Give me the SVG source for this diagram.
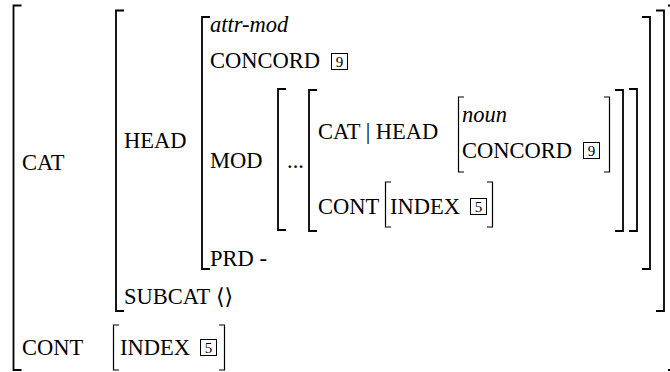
<svg xmlns="http://www.w3.org/2000/svg" width="670" height="372" viewBox="0 0 670 372">
<style>
text{font-family:'Liberation Serif','Times New Roman',serif;font-size:22.5px;fill:#000}
.it{font-style:italic}
.br{fill:none;stroke:#000;stroke-width:1.8}
.sb{fill:none;stroke:#000;stroke-width:1.2}
.bx{fill:none;stroke:#000;stroke-width:1}
.num{font-size:15px;text-anchor:middle}
.ang{font-family:'DejaVu Serif',serif;font-size:22px}
</style>
<rect width="670" height="372" fill="#fff"/>
<g id="brackets">
<path class="br" d="M21.5,5.5H13.5V370H21.5"/>
<path class="br" d="M668,5.5H677V370H668"/>
<path class="br" d="M124,10.5H116V311H124"/>
<path class="br" d="M656,10.5H664V311H656"/>
<path class="br" d="M210,17H202V269H210"/>
<path class="br" d="M642,17H650V269H642"/>
<path class="br" d="M286,89H278V230H286"/>
<path class="br" d="M629,89H637V231H629"/>
<path class="br" d="M317,90H309V231H317"/>
<path class="br" d="M615,90H623V231H615"/>
<path class="sb" d="M464,97H458.5V172H464"/>
<path class="sb" d="M604,97H609.5V172H604"/>
<path class="sb" d="M391,182H385.5V227H391"/>
<path class="sb" d="M487,182H492.5V227H487"/>
<path class="sb" d="M119,325H113.5V370H119"/>
<path class="sb" d="M219,325H224.5V370H219"/>
</g>
<g id="n-cat"><text x="22" y="170">CAT</text></g>
<g id="n-head"><text x="124" y="148">HEAD</text></g>
<g id="n-attrmod"><text class="it" x="210" y="32">attr-mod</text></g>
<g id="n-concord1"><text x="210" y="68">CONCORD</text><rect class="bx" x="331.5" y="53.5" width="16" height="16"/><text class="num" x="339.5" y="66.5">9</text></g>
<g id="n-mod"><text x="210" y="168">MOD</text></g>
<g id="n-dots"><text x="287" y="168">...</text></g>
<g id="n-cathead"><text x="318" y="139">CAT | HEAD</text></g>
<g id="n-noun"><text class="it" x="462" y="122">noun</text></g>
<g id="n-concord2"><text x="462" y="158">CONCORD</text><rect class="bx" x="583.5" y="142.5" width="16" height="16"/><text class="num" x="591.5" y="155.5">9</text></g>
<g id="n-cont1"><text x="318" y="214">CONT</text></g>
<g id="n-index1"><text x="390" y="214">INDEX</text><rect class="bx" x="470.5" y="198.5" width="16" height="16"/><text class="num" x="478.5" y="211.5">5</text></g>
<g id="n-prd"><text x="210" y="266">PRD -</text></g>
<g id="n-subcat"><text x="124" y="304">SUBCAT</text><text class="ang" x="216" y="304">⟨⟩</text></g>
<g id="n-cont2"><text x="22" y="355">CONT</text></g>
<g id="n-index2"><text x="120" y="355">INDEX</text><rect class="bx" x="200.5" y="339.5" width="16" height="16"/><text class="num" x="208.5" y="352.5">5</text></g>
</svg>
